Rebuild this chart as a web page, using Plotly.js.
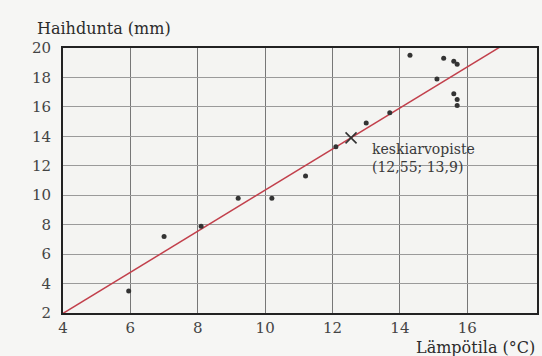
<!DOCTYPE html>
<html>
<head>
<meta charset="utf-8">
<script src="https://cdn.plot.ly/plotly-3.0.1.min.js"></script>
<style>
  html, body { margin: 0; padding: 0; background: #f6f6f4; }
  #chart { width: 542px; height: 356px; }
</style>
</head>
<body>
<div id="chart"></div>
<script>
// Measurements: temperature (°C) against evaporation (mm)
const temperature = [5.95, 7.0, 8.1, 9.2, 10.2, 11.2, 12.1, 13.0, 13.7, 14.3, 15.1, 15.3, 15.6, 15.7, 15.6, 15.7, 15.7];
const evaporation = [3.5, 7.2, 7.9, 9.8, 9.8, 11.3, 13.3, 14.9, 15.6, 19.5, 17.9, 19.3, 19.1, 18.9, 16.9, 16.5, 16.1];

// Mean point and regression slope
const meanPoint = [12.55, 13.9];
const slope = [1.395];
const lineSpan = [4, 18];

const xTicks = [4, 6, 8, 10, 12, 14, 16];
const yTicks = [2, 4, 6, 8, 10, 12, 14, 16, 18, 20];

const serif = "'DejaVu Serif', 'Liberation Serif', serif";
const ink = "#2b2b2b";

const lineY = lineSpan.map(x => meanPoint[1] + slope[0] * (x - meanPoint[0]));

const traces = [
  {
    x: lineSpan, y: lineY, type: "scatter", mode: "lines",
    line: { color: "#c2404c", width: 1.5 },
    hoverinfo: "skip"
  },
  {
    x: temperature, y: evaporation, type: "scatter", mode: "markers",
    marker: { color: "#333333", size: 5 }
  },
  {
    x: [meanPoint[0]], y: [meanPoint[1]], type: "scatter", mode: "markers",
    marker: { symbol: "x-thin", size: 11, line: { color: "#333333", width: 1.6 } }
  }
];

const meanLabel = "keskiarvopiste<br>(" + String(meanPoint[0]).replace(".", ",") + "; " +
  String(meanPoint[1]).replace(".", ",") + ")";

const layout = {
  width: 542, height: 356,
  margin: { l: 63, r: 5, t: 48, b: 43 },
  paper_bgcolor: "#f6f6f4",
  plot_bgcolor: "#f4f4f2",
  showlegend: false,
  font: { family: serif, color: ink, size: 15 },
  xaxis: {
    range: [4, 18.07], tickvals: xTicks, ticktext: xTicks.map(String),
    showgrid: true, gridcolor: "#777777", gridwidth: 1,
    zeroline: false, showline: true, linecolor: "#222222", linewidth: 2, mirror: true,
    ticks: "", ticklabelstandoff: 0,
    tickfont: { family: serif, size: 15, color: "#444444" }
  },
  yaxis: {
    range: [2, 20], tickvals: yTicks, ticktext: yTicks.map(String),
    showgrid: true, gridcolor: "#9a9a9a", gridwidth: 1,
    zeroline: false, showline: true, linecolor: "#222222", linewidth: 2, mirror: true,
    ticks: "", ticklabelstandoff: 7,
    tickfont: { family: serif, size: 15, color: "#444444" }
  },
  annotations: [
    {
      text: "Haihdunta (mm)", xref: "paper", yref: "paper",
      x: -0.059, y: 1.072, xanchor: "left", yanchor: "middle", showarrow: false,
      font: { family: serif, size: 16, color: ink }
    },
    {
      text: "Lämpötila (°C)", xref: "paper", yref: "paper",
      x: 1.0, y: -0.132, xanchor: "right", yanchor: "middle", showarrow: false,
      font: { family: serif, size: 16, color: ink }
    },
    {
      text: meanLabel, xref: "x", yref: "y",
      x: 13.1, y: 12.55, xanchor: "left", yanchor: "middle", align: "left", showarrow: false,
      font: { family: serif, size: 14, color: "#3a3a3a" }
    }
  ]
};

Plotly.newPlot("chart", traces, layout, { displayModeBar: false, staticPlot: true });
</script>
</body>
</html>
